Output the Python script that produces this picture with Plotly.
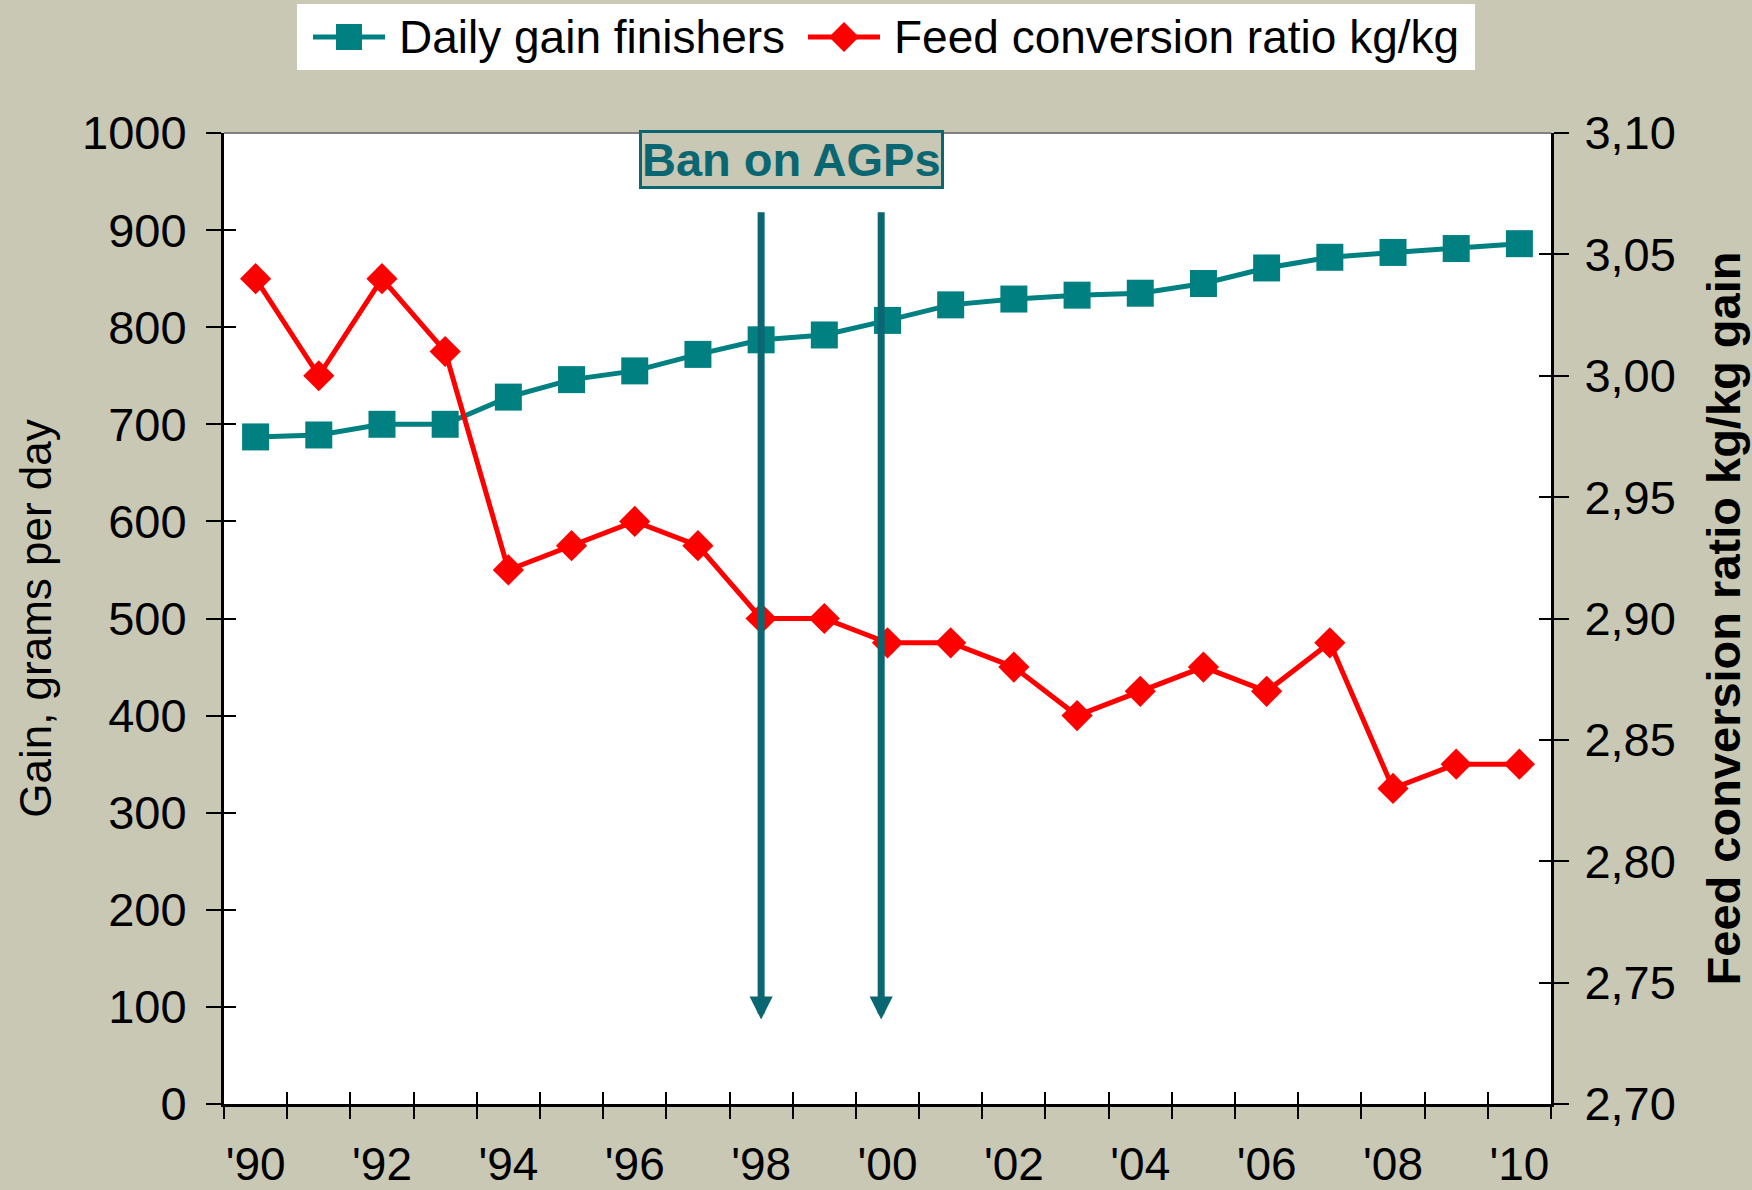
import plotly.graph_objects as go

years = ["'90", "'91", "'92", "'93", "'94", "'95", "'96", "'97", "'98", "'99", "'00",
         "'01", "'02", "'03", "'04", "'05", "'06", "'07", "'08", "'09", "'10"]
daily_gain = [687, 689, 700, 700, 728, 746, 755, 772, 787, 792, 807,
              823, 829, 833, 835, 845, 861, 872, 877, 881, 886]
fcr = [3.04, 3.00, 3.04, 3.01, 2.92, 2.93, 2.94, 2.93, 2.90, 2.90, 2.89,
       2.89, 2.88, 2.86, 2.87, 2.88, 2.87, 2.89, 2.83, 2.84, 2.84]
x_tick_labels = [y if i % 2 == 0 else "" for i, y in enumerate(years)]
left_ticks = list(range(0, 1001, 100))
right_ticks = [2.70, 2.75, 2.80, 2.85, 2.90, 2.95, 3.00, 3.05, 3.10]
right_tick_text = [f"{v:.2f}".replace(".", ",") for v in right_ticks]
ban_positions = [8.0, 9.9]  # category index of the two arrows
arrow_top, arrow_tip = 920, 87
series_names = ["Daily gain finishers", "Feed conversion ratio kg/kg"]

BG = "#C8C8B4"
TEAL = "#008080"
DARK_TEAL = "#0A6670"
RED = "#FF0000"
FONT = "Arial, Liberation Sans, sans-serif"

W, H = 1752, 1190
ML, MR, MT, MB = 224, 201, 133, 86
PW, PH = W - ML - MR, H - MT - MB


def px2x(px):
    return (px - ML) / PW


def px2y(py):
    return (H - MB - py) / PH


fig = go.Figure()
fig.add_trace(go.Scatter(
    x=years, y=daily_gain, name=series_names[0], mode="lines+markers",
    line=dict(color=TEAL, width=5), marker=dict(symbol="square", size=27, color=TEAL),
    xaxis="x", yaxis="y", showlegend=False))
fig.add_trace(go.Scatter(
    x=years, y=fcr, name=series_names[1], mode="lines+markers",
    line=dict(color=RED, width=5), marker=dict(symbol="diamond", size=24, color=RED),
    xaxis="x", yaxis="y2", showlegend=False))

for xp in ban_positions:
    fig.add_annotation(x=xp, y=arrow_tip, ax=xp, ay=arrow_top, xref="x", yref="y",
                       axref="x", ayref="y", showarrow=True, arrowhead=2,
                       arrowsize=0.66, arrowwidth=7, arrowcolor=DARK_TEAL, text="")

fig.add_annotation(x=8.48, y=973, xref="x", yref="y", text="<b>Ban on AGPs</b>",
                   showarrow=False, font=dict(size=47, color=DARK_TEAL, family=FONT),
                   bgcolor=BG, bordercolor=DARK_TEAL, borderwidth=3, borderpad=0)

# ---- custom legend (box, line+marker symbols, text) ----
fig.add_shape(type="rect", xref="paper", yref="paper",
              x0=px2x(297), x1=px2x(1475), y0=px2y(70), y1=px2y(4),
              fillcolor="white", line=dict(width=0), layer="above")
leg_items = [(313, 385, 397, TEAL, "square"), (808, 880, 892, RED, "diamond")]
ly = 37
for (x0, x1, tx, col, sym), name in zip(leg_items, series_names):
    fig.add_shape(type="line", xref="paper", yref="paper",
                  x0=px2x(x0), x1=px2x(x1), y0=px2y(ly), y1=px2y(ly),
                  line=dict(color=col, width=5), layer="above")
    cx = (x0 + x1) / 2
    if sym == "square":
        s = 13
        fig.add_shape(type="rect", xref="paper", yref="paper",
                      x0=px2x(cx - s), x1=px2x(cx + s), y0=px2y(ly + s), y1=px2y(ly - s),
                      fillcolor=col, line=dict(width=0), layer="above")
    else:
        s = 15
        path = (f"M {px2x(cx - s)} {px2y(ly)} L {px2x(cx)} {px2y(ly - s)} "
                f"L {px2x(cx + s)} {px2y(ly)} L {px2x(cx)} {px2y(ly + s)} Z")
        fig.add_shape(type="path", xref="paper", yref="paper", path=path,
                      fillcolor=col, line=dict(width=0), layer="above")
    fig.add_annotation(x=px2x(tx), y=px2y(ly), xref="paper", yref="paper",
                       xanchor="left", yanchor="middle", text=name, showarrow=False,
                       font=dict(size=46, family=FONT, color="black"))

tickfont = dict(size=47, color="black", family=FONT)

fig.update_layout(
    width=W, height=H,
    paper_bgcolor=BG, plot_bgcolor="white",
    margin=dict(l=ML, r=MR, t=MT, b=MB, autoexpand=False),
    font=dict(family=FONT, color="black"),
    showlegend=False,
    xaxis=dict(type="category", categoryorder="array", categoryarray=years,
               tickmode="array", tickvals=years, ticktext=x_tick_labels, tickangle=0,
               tickson="boundaries", ticks="outside", ticklen=12, tickwidth=2,
               tickcolor="black", tickfont=dict(size=46, color="black", family=FONT),
               ticklabelstandoff=18,
               showline=True, linecolor="black", linewidth=3, showgrid=False,
               automargin=False, range=[-0.5, 20.5]),
    xaxis2=dict(type="category", categoryorder="array", categoryarray=years,
                overlaying="x", side="bottom", tickmode="array", tickvals=years,
                ticktext=["" for _ in years], tickson="boundaries", ticks="inside",
                ticklen=12, tickwidth=2, tickcolor="black", showgrid=False,
                showline=False, range=[-0.5, 20.5], anchor="y", automargin=False),
    yaxis=dict(range=[0, 1000], tickvals=left_ticks, ticks="outside", ticklen=15,
               tickwidth=2, tickcolor="black", tickfont=tickfont,
               ticklabelstandoff=10, showline=True, linecolor="black", linewidth=3,
               showgrid=False, zeroline=False, automargin=False,
               title=dict(text="Gain, grams per day",
                          font=dict(size=44, family=FONT, color="black"), standoff=17)),
    yaxis3=dict(range=[0, 1000], tickvals=left_ticks, overlaying="y", side="left",
                ticks="inside", ticklen=12, tickwidth=2, tickcolor="black",
                showticklabels=False, showgrid=False, zeroline=False, anchor="x",
                automargin=False),
    yaxis2=dict(range=[2.70, 3.10], tickvals=right_ticks, ticktext=right_tick_text,
                overlaying="y", side="right", anchor="x", ticks="outside", ticklen=15,
                tickwidth=2, tickcolor="black", tickfont=tickfont,
                ticklabelstandoff=6, showline=True, linecolor="black", linewidth=3,
                showgrid=False, zeroline=False, automargin=False,
                title=dict(text="<b>Feed conversion ratio kg/kg gain</b>",
                           font=dict(size=47, family=FONT, color="black"), standoff=33)),
    yaxis4=dict(range=[2.70, 3.10], tickvals=right_ticks, overlaying="y", side="right",
                anchor="x", ticks="inside", ticklen=12, tickwidth=2, tickcolor="black",
                showticklabels=False, showgrid=False, zeroline=False, automargin=False),
)

# gray top border of plot area
fig.add_shape(type="line", xref="paper", yref="paper", x0=0, x1=1, y0=1, y1=1,
              line=dict(color="#808080", width=2), layer="below")

# invisible traces so overlay axes render
fig.add_trace(go.Scatter(x=[years[0]], y=[0], xaxis="x2", yaxis="y3", mode="markers",
                         marker=dict(opacity=0), showlegend=False, hoverinfo="skip"))
fig.add_trace(go.Scatter(x=[years[0]], y=[2.7], xaxis="x2", yaxis="y4", mode="markers",
                         marker=dict(opacity=0), showlegend=False, hoverinfo="skip"))

fig.write_html("out.html", config={"displayModeBar": False},
               post_script="document.body.style.margin='0';document.body.style.padding='0';"
                           "document.body.style.overflow='hidden';")
